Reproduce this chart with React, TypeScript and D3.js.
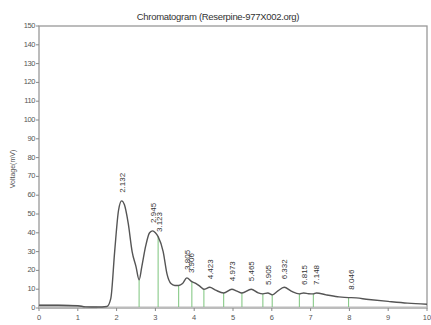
import * as d3 from 'd3';

// chromatogram trace (time in min, signal in mV)
const traceTime = [
  0, 0.5, 1.0, 1.2, 1.5, 1.75, 1.85, 1.95, 2.05, 2.13, 2.2, 2.3, 2.4, 2.5, 2.58,
  2.65, 2.75, 2.85, 2.93, 3.0, 3.07, 3.2, 3.3, 3.4, 3.5, 3.6, 3.7, 3.81, 3.94,
  4.05, 4.15, 4.25, 4.4, 4.55, 4.76, 4.97, 5.1, 5.23, 5.47, 5.65, 5.77, 5.9,
  6.01, 6.15, 6.32, 6.5, 6.71, 6.82, 6.95, 7.07, 7.15, 7.4, 7.7, 7.98, 8.05,
  8.5, 9.0, 9.5, 10,
];
const traceValue = [
  1.5, 1.5, 1.2, 0.6, 0.5, 0.8, 5, 30, 52, 57, 55, 45, 30, 22, 15,
  22, 33, 40, 41, 40, 38, 30, 18, 13, 12, 12, 13, 16, 14,
  13, 11.5, 10, 11, 9.5, 8, 10, 9, 8, 10, 8, 7.5, 8,
  7, 9, 11, 9, 7.5, 8, 7.6, 7.5, 8, 7, 6, 5.5, 5.5,
  4.5, 3.5, 2.6, 2,
];

// integration boundaries (green drop lines)
const dropTimes = [2.58, 3.07, 3.6, 3.94, 4.25, 4.76, 5.23, 5.77, 6.01, 6.71, 7.07, 7.98];

// retention-time labels
const peakLabels = ['2.132', '2.945', '3.123', '3.805', '3.906', '4.423', '4.973', '5.465', '5.905', '6.332', '6.815', '7.148', '8.046'];
const peakTimes = [2.13, 2.93, 3.1, 3.81, 3.92, 4.4, 4.97, 5.47, 5.9, 6.32, 6.82, 7.15, 8.05];

const xTicks = d3.range(0, 11);
const yTicks = d3.range(0, 151, 10);

const W = 431;
const H = 325;
const margin = { top: 26, right: 4, bottom: 17, left: 39 };

export default function App() {
  const x = d3.scaleLinear().domain([0, 10]).range([margin.left, W - margin.right]);
  const y = d3.scaleLinear().domain([0, 150]).range([H - margin.bottom, margin.top]);

  const pts = traceTime.map((t, i) => ({ t, v: traceValue[i] }));
  const line = d3
    .line<{ t: number; v: number }>()
    .x((d) => x(d.t))
    .y((d) => y(d.v))
    .curve(d3.curveMonotoneX);

  const leadIn = pts.filter((d) => d.t <= 1.5);
  const area = d3
    .area<{ t: number; v: number }>()
    .x((d) => x(d.t))
    .y0(y(0))
    .y1((d) => y(d.v))
    .curve(d3.curveMonotoneX);

  const valueAt = (t: number) => {
    const i = traceTime.indexOf(t);
    if (i >= 0) return traceValue[i];
    return d3.scaleLinear().domain(traceTime).range(traceValue)(t);
  };

  const font = '"Liberation Sans", Arial, sans-serif';

  return (
    <svg
      width={W}
      height={H}
      style={{ position: 'absolute', left: 0, top: 0, background: '#fff' }}
      fontFamily={font}
    >
      {/* frame */}
      <rect
        x={margin.left}
        y={margin.top}
        width={W - margin.left - margin.right}
        height={H - margin.top - margin.bottom}
        fill='none'
        stroke='#999'
        strokeWidth={1.3}
      />

      <text x={218} y={20} textAnchor='middle' fontSize={9.5} fill='#333' letterSpacing={-0.3}>
        Chromatogram (Reserpine-977X002.org)
      </text>

      {/* y axis */}
      {yTicks.map((t) => (
        <g key={t}>
          <line x1={margin.left - 3} x2={margin.left} y1={y(t)} y2={y(t)} stroke='#888' />
          <text
            x={margin.left - 4}
            y={y(t)}
            textAnchor='end'
            dominantBaseline='middle'
            fontSize={7.5}
            fill='#555'
            letterSpacing={-0.4}
          >
            {t}
          </text>
        </g>
      ))}
      <text
        transform={`translate(15,${(margin.top + H - margin.bottom) / 2 + 2}) rotate(-90)`}
        textAnchor='middle'
        fontSize={7}
        fill='#555'
      >
        Voltage(mV)
      </text>

      {/* x axis */}
      {xTicks.map((t) => (
        <g key={t}>
          <line x1={x(t)} x2={x(t)} y1={y(0)} y2={y(0) + 3} stroke='#888' />
          <text x={x(t)} y={y(0) + 12} textAnchor='middle' fontSize={7.5} fill='#555'>
            {t}
          </text>
        </g>
      ))}

      {/* lead-in baseline band */}
      <path d={area(leadIn) ?? ''} fill='#bbb' stroke='#aaa' />
      <line x1={x(0)} x2={x(10)} y1={y(0) - 1} y2={y(0) - 1} stroke='#bbb' strokeWidth={1.2} />

      {/* drop lines */}
      {dropTimes.map((t) => (
        <line
          key={t}
          x1={x(t)}
          x2={x(t)}
          y1={y(valueAt(t))}
          y2={y(0) - 1}
          stroke='#7cc47c'
          strokeWidth={1}
        />
      ))}

      <path d={line(pts) ?? ''} fill='none' stroke='#555' strokeWidth={1.4} />

      {/* peak labels */}
      {peakLabels.map((lab, i) => {
        const t = peakTimes[i];
        const px = x(t);
        const py = y(valueAt(t)) - 8;
        return (
          <text
            key={lab}
            transform={`translate(${px + 3},${py}) rotate(-90)`}
            fontSize={8}
            fill='#333'
          >
            {lab}
          </text>
        );
      })}
    </svg>
  );
}
